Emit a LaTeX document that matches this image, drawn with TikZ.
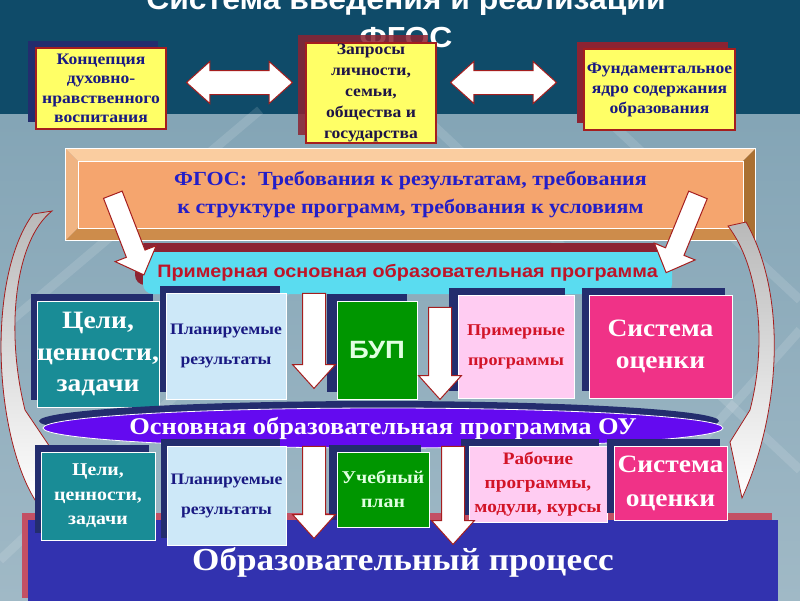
\documentclass[tikz,border=0pt]{standalone}
\usepackage{fontspec}
\setmainfont{Liberation Serif}[FakeStretch=1.1]
\setsansfont{Liberation Sans}[FakeStretch=1.1]
\usetikzlibrary{shapes.geometric,shapes.arrows,shadows}

\definecolor{ylw}{RGB}{255,255,102}
\definecolor{dred}{RGB}{165,30,30}
\definecolor{shred}{RGB}{140,35,50}
\definecolor{shnav}{RGB}{35,45,110}
\definecolor{navyt}{RGB}{25,25,130}
\definecolor{blk2}{RGB}{30,20,70}
\definecolor{fgtx}{RGB}{35,30,200}
\definecolor{orng}{RGB}{245,165,110}
\definecolor{pnkf}{RGB}{242,160,200}
\definecolor{bvt}{RGB}{250,205,160}
\definecolor{bvl}{RGB}{240,180,130}
\definecolor{bvb}{RGB}{205,140,75}
\definecolor{bvr}{RGB}{170,112,50}
\definecolor{cyn}{RGB}{90,220,240}
\definecolor{ctx}{RGB}{190,20,40}
\definecolor{teal2}{RGB}{25,140,150}
\definecolor{lblu}{RGB}{205,232,248}
\definecolor{grn}{RGB}{0,150,0}
\definecolor{pnk}{RGB}{255,204,242}
\definecolor{mag}{RGB}{240,50,135}
\definecolor{viol}{RGB}{100,10,240}
\definecolor{blu}{RGB}{50,50,175}
\definecolor{rstr}{RGB}{195,80,100}
\definecolor{gtxt}{RGB}{225,255,225}
\definecolor{rtxt}{RGB}{210,20,40}
\definecolor{bgtop}{RGB}{15,75,105}
\definecolor{bgmid}{RGB}{45,115,145}
\definecolor{bglo}{RGB}{125,160,178}
\definecolor{bglo2}{RGB}{160,185,198}

\newcommand\fsz[2]{\fontsize{#1}{#2}\selectfont}

\begin{document}
\begin{tikzpicture}[x=1pt, y=-1pt,
    box/.style={rectangle, inner sep=0pt, align=center, font=\bfseries},
    ybox/.style={box, fill=ylw, draw=dred, line width=1.2pt, text=navyt},
    rbox/.style={box, draw=white, line width=0.8pt},
    navsh/.style={copy shadow={fill=shnav, draw=none, shadow xshift=#1, shadow yshift=7pt}},
    dbl/.style={double arrow, draw=dred, fill=white, line width=1pt, inner xsep=0pt, inner ysep=11.5pt,
        minimum height=106pt, double arrow head extend=9pt, double arrow tip angle=84},
    sarr/.style={single arrow, draw=dred, fill=white, line width=1pt, inner xsep=0pt, inner ysep=11pt,
        single arrow head extend=10pt, single arrow tip angle=84},
    curv/.style={top color=gray!55, bottom color=white, draw=dred, line width=0.8pt},
    streak/.style={white, opacity=0.13, line width=9pt}]
    \clip (0,0) rectangle (800,600);
    \useasboundingbox (0,0) rectangle (800,600);

    \shade[top color=bglo, bottom color=bglo2] (0,0) rectangle (800,600);
    \shade[left color=bgtop, middle color=bgmid, right color=bgtop] (0,0) rectangle (800,113);
    \draw[streak] (0,330) -- (260,110);
    \draw[streak] (0,560) -- (330,250);
    \draw[streak] (560,600) -- (800,330);
    \draw[streak] (600,113) -- (800,300);
    \draw[streak] (420,113) -- (800,470);

    \node at (406,19) [align=center, text=white, font=\sffamily\bfseries\fsz{29}{38}] (ttl)
        {Система введения и реализации\\ФГОС};

    \node at (101,88.5) [ybox, minimum width=130pt, minimum height=81pt, navsh=-8pt,
        font=\bfseries\fsz{16}{19.5}] (kdn) {Концепция\\духовно-\\нравственного\\воспитания};
    \node at (371,93) [ybox, minimum width=130pt, minimum height=100pt, text=blk2,
        copy shadow={fill=shred, draw=none, opacity=0.85, shadow xshift=-8pt, shadow yshift=8pt},
        font=\bfseries\fsz{16}{20.8}] (zap) {Запросы\\личности,\\семьи,\\общества и\\государства};
    \node at (659.5,89.5) [ybox, minimum width=151pt, minimum height=81pt,
        copy shadow={fill=shred, draw=none, shadow xshift=-7pt, shadow yshift=7pt},
        font=\bfseries\fsz{16}{20}] (fyd) {Фундаментальное\\ядро содержания\\образования};
    \node at (239.5,82.5) [dbl] (d1) {};
    \node at (503.5,82.5) [dbl] (d2) {};

    \node at (410.5,194.5) [minimum width=689pt, minimum height=91pt, inner sep=0pt] (fgf) {};
    \node at (410.5,194.5) [minimum width=665pt, minimum height=67pt, inner sep=0pt] (fgi) {};
    \fill[bvt] (fgf.north west) -- (fgf.north east) -- (fgi.north east) -- (fgi.north west) -- cycle;
    \fill[bvl] (fgf.north west) -- (fgi.north west) -- (fgi.south west) -- (fgf.south west) -- cycle;
    \fill[bvb] (fgf.south west) -- (fgi.south west) -- (fgi.south east) -- (fgf.south east) -- cycle;
    \fill[bvr] (fgf.north east) -- (fgf.south east) -- (fgi.south east) -- (fgi.north east) -- cycle;
    \draw[white, line width=0.8pt] (fgf.north west) rectangle (fgf.south east);
    \node at (410.5,194.5) [box, minimum width=665pt, minimum height=67pt,
        top color=orng, middle color=pnkf, bottom color=orng, draw=white, line width=0.8pt,
        text=fgtx, font=\bfseries\fsz{20}{28}] (fgos)
        {ФГОС:\ \ Требования к результатам, требования\\к структуре программ, требования к условиям};

    \shade[curv] (52,211) .. controls (15,240) and (5,330) .. (25,410) -- (50,447) -- (37,503)
        .. controls (-5,440) and (-15,280) .. (33,214) -- cycle;
    \shade[curv] (728,226) .. controls (758,265) and (768,340) .. (750,410) -- (730,442) -- (742,498)
        .. controls (778,420) and (790,300) .. (746,222) -- cycle;

    \node at (407.5,273) [box, rounded corners=10pt, fill=cyn, minimum width=529pt, minimum height=42pt,
        copy shadow={fill=shred, draw=none, shadow xshift=-8pt, shadow yshift=9pt},
        text=ctx, font=\sffamily\bfseries\fsz{18}{20}] (pop) {Примерная основная образовательная программа};
    \node at (126.5,230) [sarr, rotate=-68.8, inner ysep=9.5pt, single arrow head extend=12pt,
        single arrow tip angle=88, minimum height=86pt] (s1) {};
    \node at (684,229) [sarr, rotate=-112.3, inner ysep=9.5pt, single arrow head extend=12pt,
        single arrow tip angle=88, minimum height=84pt] (s2) {};

    \node at (98,354) [rbox, fill=teal2, minimum width=114pt, minimum height=106pt, navsh=-6pt,
        text=white, font=\bfseries\fsz{25}{31.5}] (cel1) {Цели,\\ценности,\\задачи};
    \node at (226,346) [rbox, fill=lblu, minimum width=120pt, minimum height=106pt, navsh=-6pt,
        text=navyt, font=\bfseries\fsz{16}{30}] (pr1) {Планируемые\\результаты};
    \node at (377,350) [rbox, fill=grn, minimum width=80pt, minimum height=98pt, navsh=-10pt,
        text=gtxt, font=\sffamily\bfseries\fsz{25}{28}] (bup) {БУП};
    \node at (516,346.5) [rbox, fill=pnk, minimum width=116pt, minimum height=103pt, navsh=-9pt,
        text=rtxt, font=\bfseries\fsz{16.5}{30}] (prp) {Примерные\\программы};
    \node at (660.5,346.5) [rbox, fill=mag, minimum width=143pt, minimum height=103pt, navsh=-7pt,
        text=white, font=\bfseries\fsz{25}{32}] (so1) {Система\\оценки};
    \node at (314,334.5) [sarr, rotate=-90, minimum height=95pt] (a1) {};
    \node at (440,347) [sarr, rotate=-90, minimum height=92pt] (a2) {};

    \node at (383,428) [ellipse, minimum width=680pt, minimum height=40pt, inner sep=0pt,
        fill=viol, draw=white, line width=0.8pt,
        copy shadow={fill=shnav, draw=none, shadow xshift=-4pt, shadow yshift=7pt},
        label={[text=white, font=\bfseries\fsz{24}{28}]center:Основная образовательная программа ОУ}] (oop) {};

    \node at (403,562.5) [box, fill=blu, minimum width=750pt, minimum height=85pt,
        copy shadow={fill=rstr, draw=none, shadow xshift=-6pt, shadow yshift=7pt},
        text=white, font=\bfseries\fsz{32}{36}] (proc) {Образовательный процесс};

    \node at (98,496) [rbox, fill=teal2, minimum width=114pt, minimum height=88pt, navsh=-6pt,
        text=white, font=\bfseries\fsz{18}{24.5}] (cel2) {Цели,\\ценности,\\задачи};
    \node at (226.5,495.5) [rbox, fill=lblu, minimum width=119pt, minimum height=99pt, navsh=-6pt,
        text=navyt, font=\bfseries\fsz{16}{30}] (pr2) {Планируемые\\результаты};
    \node at (383,489.5) [rbox, fill=grn, minimum width=92pt, minimum height=75pt, navsh=-8pt,
        text=gtxt, font=\bfseries\fsz{18}{24}] (up) {Учебный\\план};
    \node at (538,484) [rbox, fill=pnk, minimum width=138pt, minimum height=76pt, navsh=-8pt,
        text=rtxt, font=\bfseries\fsz{17.5}{24}] (rp) {Рабочие\\программы,\\модули, курсы};
    \node at (670.5,483) [rbox, fill=mag, minimum width=113pt, minimum height=74pt, navsh=-7pt,
        text=white, font=\bfseries\fsz{25}{34}] (so2) {Система\\оценки};
    \node at (314,486) [sarr, rotate=-90, minimum height=92pt] (a3) {};
    \node at (453,489) [sarr, rotate=-90, minimum height=98pt] (a4) {};
\end{tikzpicture}
\end{document}
